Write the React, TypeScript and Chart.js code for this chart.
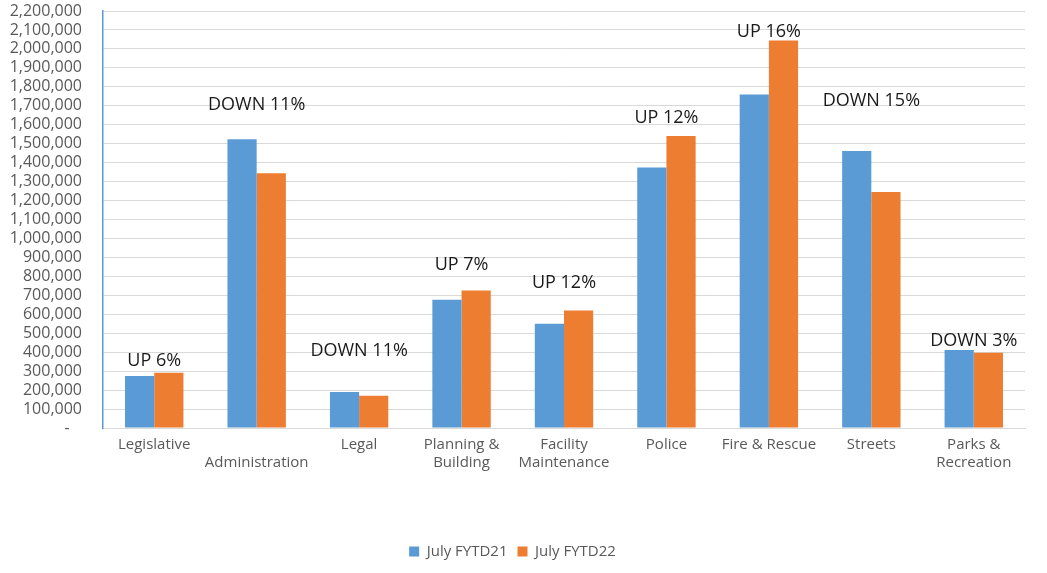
import React, { useEffect, useRef } from "react";
import { Chart, registerables } from "chart.js";

Chart.register(...registerables);

const categories: (string | string[])[] = [
  "Legislative",
  ["", "Administration"],
  "Legal",
  ["Planning &", "Building"],
  ["Facility", "Maintenance"],
  "Police",
  "Fire & Rescue",
  "Streets",
  ["Parks &", "Recreation"],
];

const fytd21 = [275000, 1524000, 190000, 677000, 550000, 1375000, 1760000, 1462000, 411000];
const fytd22 = [292000, 1344000, 170000, 725000, 620000, 1540000, 2044000, 1245000, 397000];

const changeLabels = ["UP 6%", "DOWN 11%", "DOWN 11%", "UP 7%", "UP 12%", "UP 12%", "UP 16%", "DOWN 15%", "DOWN 3%"];
const changeLabelLevels = [354000, 1704000, 407000, 862000, 767000, 1635000, 2090000, 1725000, 460000];

const yTickMax = 2200000;
const yTickStep = 100000;

const FONT = "'Open Sans', 'DejaVu Sans', sans-serif";

const changeLabelPlugin = {
  id: "changeLabels",
  afterDatasetsDraw(chart: any) {
    const { ctx, scales } = chart;
    const x = scales.x;
    const y = scales.y;
    ctx.save();
    ctx.font = `18px ${FONT}`;
    ctx.fillStyle = "#1a1a1a";
    ctx.textAlign = "center";
    ctx.textBaseline = "middle";
    changeLabels.forEach((t, i) => {
      ctx.fillText(t, x.getPixelForValue(i), y.getPixelForValue(changeLabelLevels[i]));
    });
    ctx.restore();
  },
};

export default function App() {
  const ref = useRef<HTMLCanvasElement | null>(null);

  useEffect(() => {
    document.body.style.margin = "0";
    const canvas = ref.current;
    if (!canvas) return;
    const chart = new Chart(canvas, {
      type: "bar",
      data: {
        labels: categories,
        datasets: [
          {
            label: "July FYTD21",
            data: fytd21,
            backgroundColor: "#5B9BD5",
            barPercentage: 1,
            categoryPercentage: 0.57,
          },
          {
            label: "July FYTD22",
            data: fytd22,
            backgroundColor: "#ED7D31",
            barPercentage: 1,
            categoryPercentage: 0.57,
          },
        ],
      },
      options: {
        animation: false,
        responsive: false,
        maintainAspectRatio: false,
        layout: { padding: { top: 11, right: 22, bottom: 4, left: 0 } },
        plugins: {
          legend: {
            position: "bottom",
            labels: {
              boxWidth: 10,
              boxHeight: 10,
              padding: 10,
              color: "#595959",
              font: { family: FONT, size: 15 },
            },
          },
          tooltip: { enabled: false },
        },
        scales: {
          x: {
            grid: { display: false, drawTicks: false },
            border: { color: "#d9d9d9", width: 1 },
            ticks: {
              color: "#595959",
              font: { family: FONT, size: 15, lineHeight: 1.2 },
              padding: 8,
              maxRotation: 0,
              autoSkip: false,
            },
            afterFit(scale: any) {
              scale.height = 106;
            },
          },
          y: {
            min: 0,
            max: yTickMax,
            grid: { color: "#d9d9d9", drawTicks: false },
            border: { color: "#5B9BD5", width: 1.5 },
            ticks: {
              stepSize: yTickStep,
              autoSkip: false,
              color: "#595959",
              font: { family: FONT, size: 16 },
              padding: 21,
              callback: (v: any) => (Number(v) === 0 ? "-   " : Number(v).toLocaleString("en-US")),
            },
            afterFit(scale: any) {
              scale.width = 103;
              scale.paddingTop = 0;
              scale.paddingBottom = 0;
            },
          },
        },
      },
      plugins: [changeLabelPlugin],
    });
    return () => chart.destroy();
  }, []);

  return (
    <div style={{ position: "absolute", left: 0, top: 0, width: 1047, height: 573, background: "#fff" }}>
      <canvas ref={ref} width={1047} height={573} style={{ width: 1047, height: 573 }} />
    </div>
  );
}
